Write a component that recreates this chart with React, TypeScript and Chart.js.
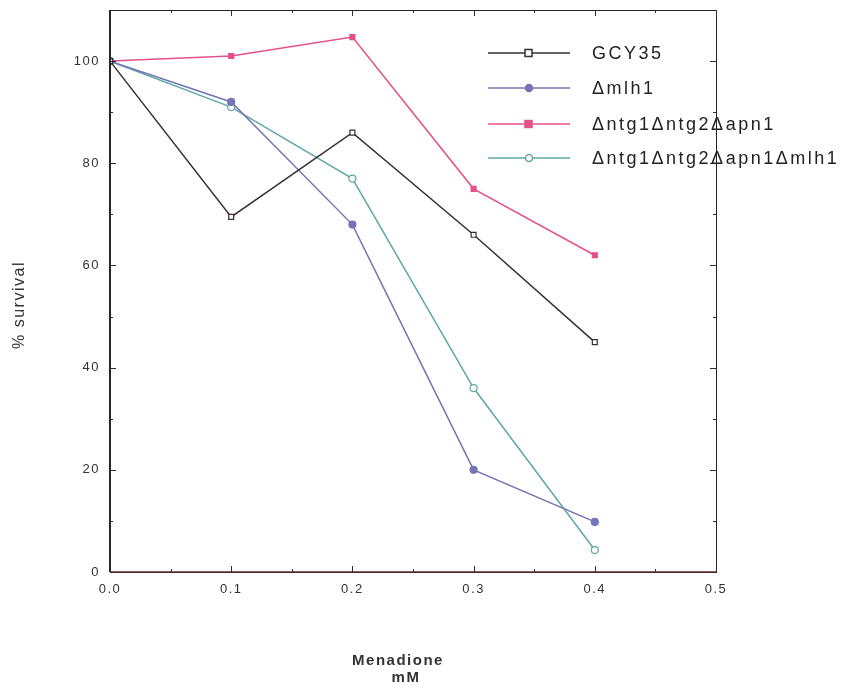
import React, { useEffect, useRef } from "react";
import { Chart, registerables } from "chart.js";

Chart.register(...registerables);

const doses = [0, 0.1, 0.2, 0.3, 0.4];
const gcy35 = [100, 69.5, 86, 66, 45];
const mlh1 = [100, 92, 68, 20, 9.8];
const ntgApn = [100, 101, 104.7, 75, 62];
const ntgApnMlh1 = [100, 91, 77, 36, 4.3];
const seriesNames = ["GCY35", "\u0394mlh1", "\u0394ntg1\u0394ntg2\u0394apn1", "\u0394ntg1\u0394ntg2\u0394apn1\u0394mlh1"];
const xTicks = [0, 0.1, 0.2, 0.3, 0.4, 0.5];
const yTicks = [0, 20, 40, 60, 80, 100];

const colors = ["#3b2e30", "#7474b6", "#e4508a", "#5fa8a4"];
const fills = ["#ffffff", "#7474b6", "#e4508a", "#ffffff"];
const shapes = ["rect", "circle", "rect", "circle"];

const framePlugin = {
  id: "frame",
  beforeDraw(chart: any) {
    (chart.ctx as any).letterSpacing = "1.5px";
  },
  beforeDatasetsDraw(chart: any) {
    (chart.ctx as any).letterSpacing = "0px";
  },
  afterDraw(chart: any) {
    const { ctx, chartArea: a, scales } = chart;
    const x = scales.x, y = scales.y;
    ctx.save();
    ctx.strokeStyle = "#2a2224";
    ctx.lineWidth = 1;
    ctx.strokeRect(a.left + 0.5, a.top + 0.5, a.right - a.left, a.bottom - a.top);
    ctx.lineWidth = 2;
    ctx.beginPath();
    ctx.moveTo(a.left, a.top);
    ctx.lineTo(a.left, a.bottom);
    ctx.stroke();
    ctx.strokeStyle = "#5a2a30";
    ctx.lineWidth = 1.5;
    ctx.beginPath();
    ctx.moveTo(a.left, a.bottom);
    ctx.lineTo(a.right, a.bottom);
    ctx.stroke();
    ctx.strokeStyle = "#3a2a2c";
    ctx.lineWidth = 1;
    for (let v = 0.05; v < 0.5; v += 0.05) {
      const px = Math.round(x.getPixelForValue(v)) + 0.5;
      const major = Math.abs(v * 10 - Math.round(v * 10)) < 1e-6;
      const len = major ? 6 : 3;
      ctx.beginPath();
      ctx.moveTo(px, a.bottom);
      ctx.lineTo(px, a.bottom - len);
      ctx.moveTo(px, a.top);
      ctx.lineTo(px, a.top + len);
      ctx.stroke();
    }
    for (let v = 10; v < 110; v += 10) {
      const py = Math.round(y.getPixelForValue(v)) + 0.5;
      const len = v % 20 === 0 ? 6 : 3;
      ctx.beginPath();
      ctx.moveTo(a.left, py);
      ctx.lineTo(a.left + len, py);
      ctx.moveTo(a.right, py);
      ctx.lineTo(a.right - len, py);
      ctx.stroke();
    }
    // axis titles
    ctx.fillStyle = "#333";
    ctx.textAlign = "center";
    ctx.textBaseline = "middle";
    ctx.letterSpacing = "1.5px";
    ctx.font = "bold 15px 'Liberation Sans', Arial, sans-serif";
    ctx.fillText("Menadione", 398, 661);
    ctx.fillText("mM", 406, 678);
    ctx.save();
    ctx.translate(20, 305);
    ctx.rotate(-Math.PI / 2);
    ctx.font = "16px 'Liberation Sans', Arial, sans-serif";
    ctx.fillText("% survival", 0, 0);
    ctx.restore();
    // legend
    const rows = [53, 88, 124, 158];
    chart.data.datasets.forEach((ds: any, i: number) => {
      const yy = rows[i];
      ctx.letterSpacing = "0px";
      ctx.strokeStyle = ds.borderColor;
      ctx.lineWidth = 1.5;
      ctx.beginPath();
      ctx.moveTo(488, yy);
      ctx.lineTo(570, yy);
      ctx.stroke();
      ctx.fillStyle = ds.pointBackgroundColor;
      ctx.beginPath();
      if (ds.pointStyle === "rect") {
        ctx.rect(525, yy - 3.5, 7, 7);
      } else {
        ctx.arc(529, yy, 3.5, 0, Math.PI * 2);
      }
      ctx.fill();
      ctx.stroke();
      ctx.fillStyle = "#222";
      ctx.textAlign = "left";
      ctx.letterSpacing = "2.5px";
      ctx.font = "18px 'Liberation Sans', Arial, sans-serif";
      ctx.fillText(ds.label, 592, yy + 1);
    });
    ctx.restore();
  },
};

export default function App() {
  const ref = useRef<HTMLCanvasElement>(null);
  useEffect(() => {
    const seriesData = [gcy35, mlh1, ntgApn, ntgApnMlh1];
    const chart = new Chart(ref.current as HTMLCanvasElement, {
      type: "line",
      data: {
        datasets: seriesData.map((s, i) => ({
          label: seriesNames[i],
          data: doses.map((d, j) => ({ x: d, y: s[j] })),
          borderColor: colors[i],
          backgroundColor: fills[i],
          pointBackgroundColor: fills[i],
          pointBorderColor: colors[i],
          pointStyle: shapes[i],
          pointRadius: 3.5,
          pointBorderWidth: 1.2,
          borderWidth: 1.5,
          tension: 0,
        })),
      },
      options: {
        animation: false,
        responsive: false,
        layout: { padding: { left: 0, right: 138, top: 10, bottom: 0 } },
        plugins: { legend: { display: false }, tooltip: { enabled: false } },
        scales: {
          x: {
            type: "linear",
            min: 0,
            max: 0.5,
            afterFit: (s: any) => { s.height = 120; s.paddingLeft = 0; s.paddingRight = 0; },
            afterBuildTicks: (s: any) => { s.ticks = xTicks.map((v) => ({ value: v })); },
            grid: { display: false },
            border: { display: false },
            ticks: {
              color: "#333",
              font: { size: 13, family: "'Liberation Sans', Arial, sans-serif" },
              padding: 2,
              maxRotation: 0,
              callback: (v: any) => Number(v).toFixed(1),
            },
          },
          y: {
            type: "linear",
            min: 0,
            max: 110,
            afterFit: (s: any) => { s.width = 110; s.paddingTop = 0; s.paddingBottom = 0; },
            afterBuildTicks: (s: any) => { s.ticks = yTicks.map((v) => ({ value: v })); },
            grid: { display: false },
            border: { display: false },
            ticks: {
              color: "#333",
              font: { size: 13, family: "'Liberation Sans', Arial, sans-serif" },
              padding: 2,
            },
          },
        },
      },
      plugins: [framePlugin],
    } as any);
    return () => chart.destroy();
  }, []);
  return (
    <div style={{ position: "absolute", left: 0, top: 0, width: 854, height: 692, background: "#fff" }}>
      <canvas ref={ref} width={854} height={692} style={{ width: 854, height: 692 }} />
    </div>
  );
}
